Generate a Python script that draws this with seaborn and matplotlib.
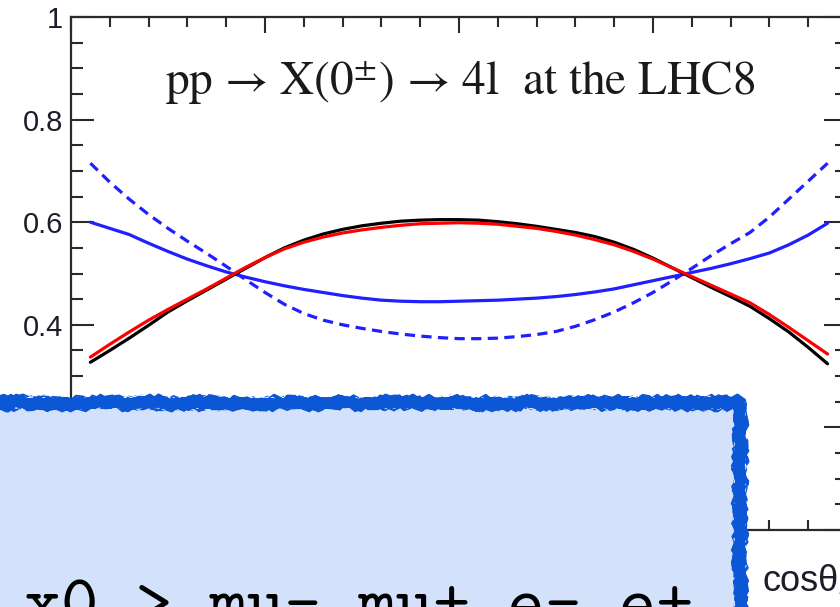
import matplotlib
matplotlib.use("Agg")
import matplotlib.pyplot as plt
import seaborn as sns
import pandas as pd
from matplotlib.patches import Rectangle
from matplotlib.ticker import MultipleLocator

# cos(theta) sampling points and the four angular distributions
cos_theta = [-0.95, -0.90, -0.85, -0.80, -0.75, -0.70, -0.65, -0.60, -0.55, -0.50,
             -0.45, -0.40, -0.35, -0.30, -0.25, -0.20, -0.15, -0.10, -0.05, 0.00,
             0.05, 0.10, 0.15, 0.20, 0.25, 0.30, 0.35, 0.40, 0.45, 0.50,
             0.55, 0.60, 0.65, 0.70, 0.75, 0.80, 0.85, 0.90, 0.95]
scalar_black = [0.327, 0.350, 0.374, 0.399, 0.425, 0.447, 0.468, 0.489, 0.510, 0.531,
                0.550, 0.565, 0.577, 0.586, 0.593, 0.598, 0.602, 0.604, 0.605, 0.605,
                0.604, 0.601, 0.597, 0.592, 0.586, 0.580, 0.572, 0.561, 0.547, 0.530,
                0.511, 0.492, 0.473, 0.455, 0.436, 0.412, 0.386, 0.356, 0.324]
scalar_red = [0.337, 0.362, 0.386, 0.409, 0.430, 0.450, 0.470, 0.491, 0.512, 0.531,
              0.548, 0.561, 0.571, 0.579, 0.585, 0.590, 0.594, 0.597, 0.598, 0.599,
              0.598, 0.596, 0.592, 0.588, 0.582, 0.575, 0.566, 0.556, 0.543, 0.528,
              0.511, 0.494, 0.477, 0.460, 0.443, 0.420, 0.395, 0.369, 0.343]
pseudo_solid = [0.600, 0.588, 0.576, 0.559, 0.543, 0.528, 0.515, 0.503, 0.493, 0.484,
                0.476, 0.469, 0.463, 0.457, 0.452, 0.448, 0.446, 0.445, 0.445, 0.446,
                0.447, 0.448, 0.450, 0.452, 0.455, 0.459, 0.464, 0.470, 0.478, 0.486,
                0.494, 0.502, 0.510, 0.519, 0.529, 0.540, 0.556, 0.575, 0.598]
pseudo_dashed = [0.715, 0.678, 0.645, 0.615, 0.588, 0.563, 0.539, 0.514, 0.488, 0.463,
                 0.440, 0.422, 0.409, 0.400, 0.393, 0.387, 0.382, 0.378, 0.375, 0.373,
                 0.373, 0.374, 0.377, 0.381, 0.387, 0.397, 0.410, 0.425, 0.443, 0.463,
                 0.486, 0.510, 0.535, 0.558, 0.580, 0.610, 0.645, 0.680, 0.715]

y_ticks = [0, 0.2, 0.4, 0.6, 0.8, 1.0]
y_tick_labels = ["", "0.2", "0.4", "0.6", "0.8", "1"]
x_ticks = [-1, -0.5, 0, 0.5, 1]
x_tick_labels = ["", "-0.5", "0", "0.5", "1"]
title = "pp → X(0$^{\\pm}$) → 4l  at the LHC8"
x_label = "cosθ₁"
caption = "x0 > mu- mu+ e- e+"

sns.set_style("ticks")
plt.rcParams["font.family"] = ["Liberation Sans", "DejaVu Sans"]
plt.rcParams["mathtext.fontset"] = "stix"

W, H = 840, 607
fig = plt.figure(figsize=(W / 100, H / 100), dpi=100)
fig.patch.set_facecolor("white")
ax = fig.add_axes([71 / W, 1 - 530 / H, (847 - 71) / W, (530 - 17) / H])
ax.set_facecolor("white")

series = [
    ("dashed", pseudo_dashed, "#1f1fff", (0, (3.2, 2.0))),
    ("solid", pseudo_solid, "#1f1fff", "-"),
    ("black", scalar_black, "black", "-"),
    ("red", scalar_red, "#ff0000", "-"),
]
for name, ys, color, ls in series:
    df = pd.DataFrame({"cos": cos_theta, "val": ys})
    sns.lineplot(data=df, x="cos", y="val", color=color, linewidth=2.3,
                 linestyle=ls, ax=ax, estimator=None, sort=True)

ax.set_xlim(-1, 1)
ax.set_ylim(0, 1)
ax.set_xticks(x_ticks, x_tick_labels)
ax.set_yticks(y_ticks, y_tick_labels)
ax.xaxis.set_minor_locator(MultipleLocator(0.1))
ax.yaxis.set_minor_locator(MultipleLocator(0.05))
ax.set_xlabel("")
ax.set_ylabel("")

for s in ax.spines.values():
    s.set_visible(True)
    s.set_linewidth(1.6)
    s.set_color("#2a2a2a")

ax.tick_params(axis="both", which="both", direction="in", top=True, right=True,
               color="#2a2a2a", width=1.5)
ax.tick_params(axis="y", which="major", length=16.5, labelsize=21, pad=5.5,
               labelcolor="#1c1c2a")
ax.tick_params(axis="y", which="minor", length=8.6)
ax.tick_params(axis="x", which="major", length=11.5, labelsize=21, pad=6,
               labelcolor="#1c1c2a")
ax.tick_params(axis="x", which="minor", length=7.2)

ax.grid(False)

# process label in the upper part of the frame
fig.text(165 / W, 1 - 95 / H, title, fontsize=34, family="STIXGeneral",
         color="#1a1a1a", va="baseline", ha="left")

# x-axis label at the lower right
fig.text(762 / W, 1 - 582 / H, x_label, fontsize=26, color="#1c1c2a",
         va="center", ha="left", family=["Liberation Sans", "DejaVu Sans"])

# sketched annotation box over the lower-left part of the plot
box = Rectangle((-30 / W, 1 - 680 / H), (740 + 30) / W, (680 - 403) / H,
                transform=fig.transFigure, facecolor="#d4e1fb",
                edgecolor="#0b57d6", linewidth=11.5, zorder=2,
                joinstyle="bevel")
box.set_sketch_params(scale=1.5, length=2.0, randomness=3)
fig.add_artist(box)

fig.text(24 / W, 1 - 624 / H, caption, fontsize=51, family="cmtt10",
         color="black", va="baseline", ha="left", zorder=3)

fig.savefig("out.png", dpi=100)
